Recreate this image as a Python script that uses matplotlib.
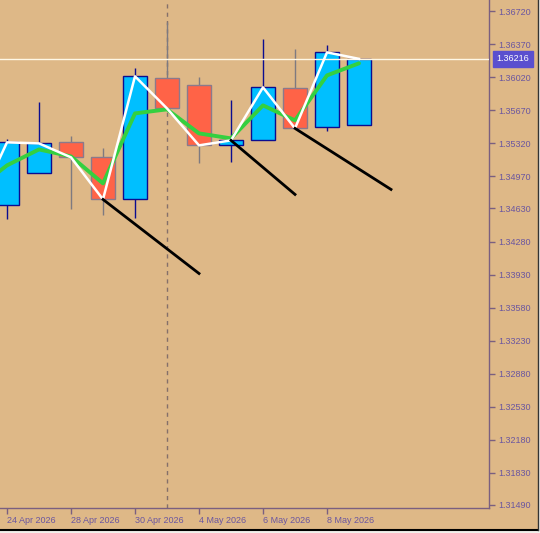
import matplotlib
matplotlib.use("Agg")
import matplotlib.pyplot as plt
from matplotlib.lines import Line2D
from matplotlib.patches import Rectangle

# ---- data ----
idx = [-1, 0, 1, 2, 3, 4, 5, 6, 7, 8, 9, 10, 11]
opens  = [1.35000, 1.34662, 1.35002, 1.35331, 1.35172, 1.34726, 1.36009, 1.35935, 1.35299, 1.35352, 1.35903, 1.35490, 1.35511]
highs  = [1.35100, 1.35362, 1.35755, 1.35394, 1.35267, 1.36116, 1.36603, 1.36020, 1.35776, 1.36423, 1.36317, 1.36359, 1.36216]
lows   = [1.34450, 1.34514, 1.35002, 1.34620, 1.34556, 1.34525, 1.35691, 1.35108, 1.35119, 1.35352, 1.35479, 1.35447, 1.35511]
closes = [1.34599, 1.35331, 1.35320, 1.35172, 1.34726, 1.36031, 1.35691, 1.35299, 1.35352, 1.35914, 1.35479, 1.36285, 1.36216]
ma_line = [1.34822, 1.35087, 1.35256, 1.35182, 1.34896, 1.35638, 1.35681, 1.35426, 1.35373, 1.35723, 1.35564, 1.36041, 1.36169]

trend_start_idx = [3, 7, 9]
trend_start_px = [1.34726, 1.35352, 1.35479]
trend_end_idx = [6, 9, 12]
trend_end_px = [1.33941, 1.34779, 1.34832]

bid_price = 1.36216
separator_idx = 5

price_ticks = [1.36720, 1.36370, 1.36020, 1.35670, 1.35320, 1.34970, 1.34630,
               1.34280, 1.33930, 1.33580, 1.33230, 1.32880, 1.32530, 1.32180,
               1.31830, 1.31490]
date_tick_idx = [0, 2, 4, 6, 8, 10]
date_tick_labels = ["24 Apr 2026", "28 Apr 2026", "30 Apr 2026", "4 May 2026",
                    "6 May 2026", "8 May 2026"]

# ---- style ----
BG = "#deb887"
AXC = "#7a5f80"
TXT = "#6a56a0"
BULL = "#00bfff"
BULL_EDGE = "#0c0c90"
BEAR = "#ff6347"
BEAR_EDGE = "#8a7a8c"
BEAR_WICK = "#7e7a80"

fig = plt.figure(figsize=(5.40, 5.33), dpi=100, facecolor=BG)
ax = fig.add_axes([0.0, 25.0 / 533, 489.0 / 540, 508.0 / 533])
ax.set_facecolor(BG)

# period separator
ax.axvline(separator_idx, color="#85706a", lw=1.0, ls=(0, (3, 3)), zorder=1)

# candles
for i, o, h, l, c in zip(idx, opens, highs, lows, closes):
    bull = c >= o
    wc = BULL_EDGE if bull else BEAR_WICK
    ax.vlines(i, l, h, color=wc, lw=1.0, zorder=2)
    ax.bar(i, abs(c - o), bottom=min(o, c), width=0.76,
           color=BULL if bull else BEAR,
           edgecolor=BULL_EDGE if bull else BEAR_EDGE, lw=1.0, zorder=3)

# bid line
ax.axhline(bid_price, color="#fff8e6", lw=1.0, zorder=4)

# moving average and close line
ax.plot(idx, ma_line, color="#34d040", lw=2.8, zorder=5, solid_capstyle="round")
ax.plot(idx, closes, color="white", lw=1.8, zorder=6)

# trend lines
for si, sp, ei, ep in zip(trend_start_idx, trend_start_px, trend_end_idx, trend_end_px):
    ax.plot([si, ei], [sp, ep], color="black", lw=2.0, zorder=7)

ax.set_xlim(-0.21875, 15.0625)
ax.set_ylim(1.31455, 1.36840)

for s in ["left", "top"]:
    ax.spines[s].set_visible(False)
for s in ["right", "bottom"]:
    ax.spines[s].set_color(AXC)
    ax.spines[s].set_linewidth(1.0)

ax.yaxis.tick_right()
ax.set_yticks(price_ticks)
ax.set_yticklabels([f"{p:.5f}" for p in price_ticks])
ax.tick_params(axis="y", colors=AXC, labelcolor=TXT, length=4, width=1,
               pad=3, labelsize=6.5)
ax.set_xticks(date_tick_idx)
ax.set_xticklabels(date_tick_labels, ha="left")
ax.tick_params(axis="x", colors=AXC, labelcolor=TXT, length=4, width=1,
               pad=2, labelsize=6.5)
for lab in ax.get_xticklabels() + ax.get_yticklabels():
    lab.set_family("Liberation Sans")

# bid label box
ax.annotate(f"{bid_price:.5f}", xy=(1.0, bid_price), xycoords=("axes fraction", "data"),
            xytext=(5.5, 0), textcoords="offset points", ha="left", va="center",
            color="white", fontsize=6.5, family="Liberation Sans",
            bbox=dict(boxstyle="square,pad=0.35", fc="#5a4fcf", ec="#5a4fcf"),
            annotation_clip=False, zorder=10)

# window frame at bottom/right
W, H = 540.0, 533.0
fig.add_artist(Rectangle((537.5 / W, 0), 3 / W, 1, transform=fig.transFigure,
                         fc="#f2f0ec", ec="none"))
fig.add_artist(Rectangle((0, 0), 1, 2.5 / H, transform=fig.transFigure,
                         fc="#f2f0ec", ec="none"))
fig.add_artist(Line2D([0, 537.5 / W], [3.0 / H, 3.0 / H], transform=fig.transFigure,
                      color="black", lw=1.5))
fig.add_artist(Line2D([537.5 / W, 537.5 / W], [3.0 / H, 1], transform=fig.transFigure,
                      color="#333333", lw=1.0))

fig.savefig("out.png", dpi=100, facecolor=BG)
